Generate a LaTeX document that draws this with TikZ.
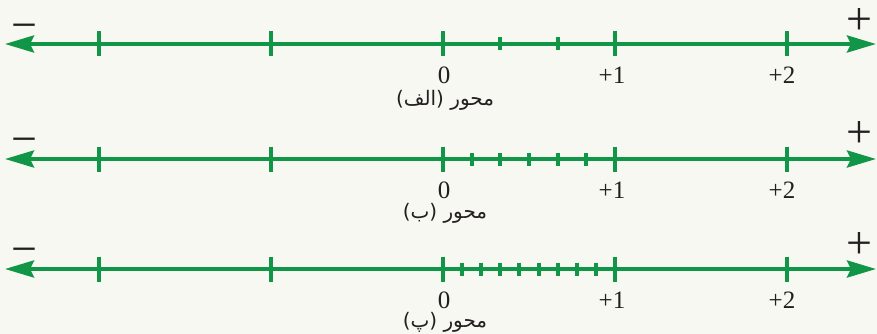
\documentclass[tikz,border=0pt]{standalone}
\usepackage{fontspec}
\setmainfont{Liberation Serif}
\newfontfamily\arabicfont[Script=Arabic]{DejaVu Sans}
\TeXXeTstate=1
\usetikzlibrary{arrows.meta}
\definecolor{bgc}{HTML}{F8F8F2}
\definecolor{axgreen}{HTML}{109646}
\definecolor{ink}{HTML}{231F20}
\tikzset{
  axisline/.style={draw=axgreen, line width=4pt, {Stealth[length=29pt,width=17pt,inset=4pt]}-{Stealth[length=29pt,width=17pt,inset=4pt]}},
  majortick/.style={draw=axgreen, line width=4pt},
  minortick/.style={draw=axgreen, line width=4pt},
  numlabel/.style={text=ink, font=\fontsize{25}{25}\selectfont, inner sep=0pt, text height=17pt, text depth=0pt},
  signlabel/.style={text=ink, font=\fontsize{46}{46}\selectfont, inner sep=0pt, text height=23pt, text depth=0pt},
  arlabel/.style={text=ink, font=\arabicfont\fontsize{20}{24}\selectfont, inner sep=0pt, text height=13pt, text depth=5pt}
}
\begin{document}
\begin{tikzpicture}[x=1pt,y=-1pt]
\fill[bgc] (0,0) rectangle (877,334);
\useasboundingbox (0,0) rectangle (877,334);
\foreach \ay/\n/\lab/\ly/\sy/\py in {44/3/{الف}/102/29/23, 159/6/{ب}/214/143/136, 269/9/{پ}/323/253/247}{
  \coordinate (L\ay) at (5,\ay);
  \coordinate (R\ay) at (876,\ay);
  \draw[axisline] (L\ay) -- (R\ay);
  \foreach \x in {99,271,443,615,787}{
    \draw[majortick] (\x,\ay-12.5) -- (\x,\ay+12.5);
  }
  \pgfmathtruncatemacro{\m}{\n-1}
  \foreach \k in {1,...,\m}{
    \draw[minortick] ({443+172*\k/\n},\ay-6.5) -- ({443+172*\k/\n},\ay+6.5);
  }
  \node[numlabel] (z\ay) at (444,\ay+31) {0};
  \node[numlabel] (p\ay) at (612,\ay+31) {+1};
  \node[numlabel] (q\ay) at (782,\ay+31) {+2};
  \node[arlabel] (a\ay) at (445,\ly) {\beginR محور (\lab)\endR};
  \node[signlabel] (m\ay) at (24,\sy) {−};
  \node[signlabel] (s\ay) at (859,\py) {+};
}
\end{tikzpicture}
\end{document}
